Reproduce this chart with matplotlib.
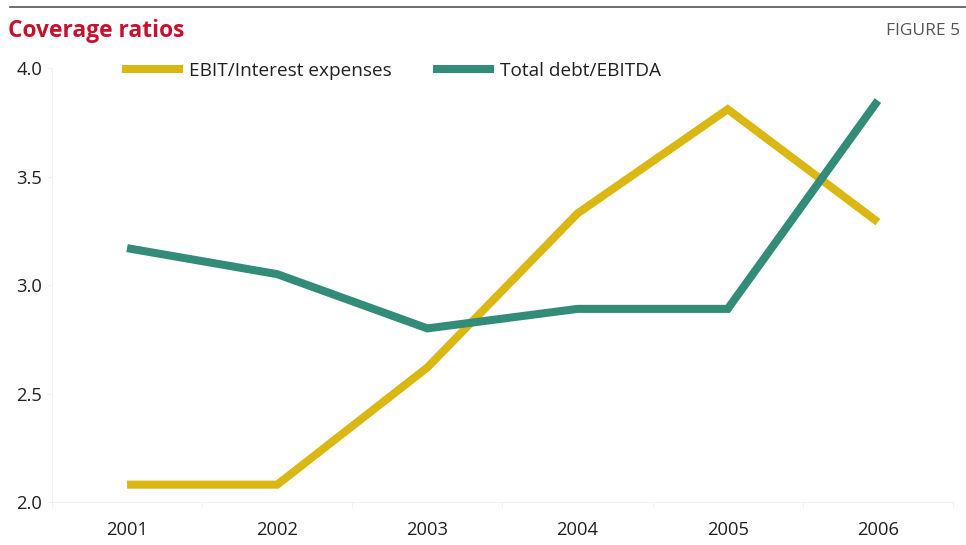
import matplotlib.pyplot as plt
from matplotlib.lines import Line2D
import numpy as np

plt.rcParams['font.family'] = ['Open Sans', 'DejaVu Sans']

# Ratios by year
years = ['2001', '2002', '2003', '2004', '2005', '2006']
ebit_interest = [2.08, 2.08, 2.62, 3.33, 3.81, 3.29]
debt_ebitda = [3.17, 3.05, 2.80, 2.89, 2.89, 3.85]
y_ticks = [2.0, 2.5, 3.0, 3.5, 4.0]

yellow = '#dbb714'
green = '#338c78'
faint = '#f0f0f0'
lw = 5.8

fig = plt.figure(figsize=(9.66, 5.45), dpi=100)
ax = fig.add_axes([0.0538, 0.0789, 0.9327, 0.7963])

x = np.arange(len(years))
ax.plot(x, ebit_interest, color=yellow, linewidth=lw, solid_capstyle='butt', solid_joinstyle='miter')
ax.plot(x, debt_ebitda, color=green, linewidth=lw, solid_capstyle='butt', solid_joinstyle='miter')

ax.set_xlim(-0.5, len(years) - 0.5)
ax.set_ylim(2.0, 4.0)
ax.set_xticks(x)
ax.set_xticklabels(years)
ax.set_xticks(np.arange(-0.5, len(years), 1.0), minor=True)
ax.set_yticks(y_ticks)
ax.set_yticklabels([f'{v:.1f}' for v in y_ticks])

for side in ['top', 'right']:
    ax.spines[side].set_visible(False)
for side in ['left', 'bottom']:
    ax.spines[side].set_color(faint)
    ax.spines[side].set_linewidth(0.8)

ax.tick_params(axis='x', which='major', length=0, pad=14, labelsize=13.2, labelcolor='#231f20')
ax.tick_params(axis='x', which='minor', length=4, color=faint)
ax.tick_params(axis='y', length=3, color=faint, pad=4, labelsize=13.2, labelcolor='#231f20')

handles = [Line2D([], [], color=yellow, linewidth=lw, solid_capstyle='butt'),
           Line2D([], [], color=green, linewidth=lw, solid_capstyle='butt')]
ax.legend(handles, ['EBIT/Interest expenses', 'Total debt/EBITDA'], ncol=2,
          loc='center left', bbox_to_anchor=(0.1263, 0.870), bbox_transform=fig.transFigure,
          frameon=False, fontsize=13.7, handlelength=3.2, handletextpad=0.3, columnspacing=2.2,
          borderpad=0, borderaxespad=0, labelcolor='#231f20')

# Header rule and titles
fig.add_artist(Line2D([0.0104, 1.0], [0.987, 0.987], transform=fig.transFigure, color='#555555', linewidth=1.2))
fig.text(0.008, 0.943, 'Coverage ratios', color='#c8102e', fontsize=16.4, fontweight='bold', va='center', ha='left')
fig.text(0.994, 0.943, 'FIGURE 5', color='#555555', fontsize=12.5, va='center', ha='right')

fig.savefig('out.png', dpi=100)
